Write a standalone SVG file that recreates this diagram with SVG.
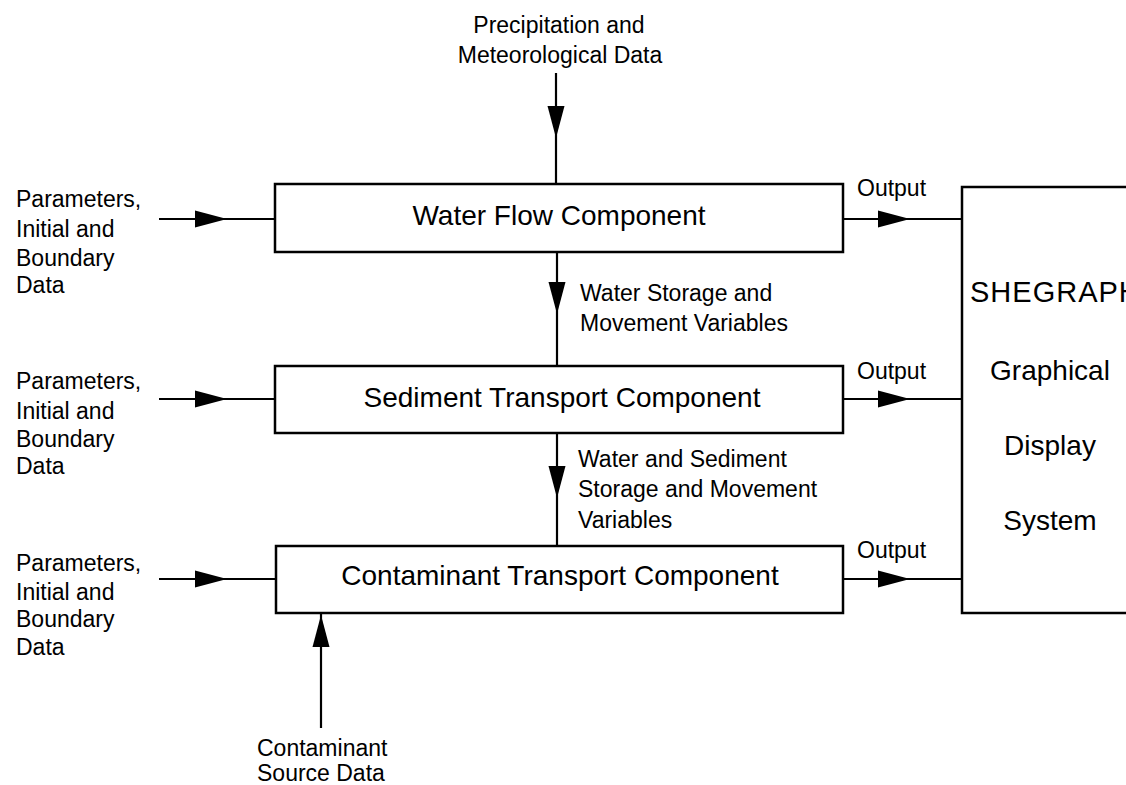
<svg xmlns="http://www.w3.org/2000/svg" xmlns:xlink="http://www.w3.org/1999/xlink" width="1126" height="785" viewBox="0 0 1126 785">
  <style>
    .box { fill: #fff; stroke: #000; stroke-width: 2.5; }
    .line { fill: none; stroke: #000; stroke-width: 2.2; }
    .ah { fill: #000; }
    text { font-family: "Liberation Sans", Arial, Helvetica, sans-serif; fill: #000; }
    .big { font-size: 28px; }
    .small { font-size: 23px; }
    .mid { text-anchor: middle; }
  </style>
  <defs>
    <!-- arrowhead pointing along +x, tip at origin -->
    <path id="ah" class="ah" d="M0,0 L-32,-8.5 L-32,8.5 Z"/>
  </defs>

  <rect width="1126" height="785" fill="#fff"/>

  <!-- connectors -->
  <g id="connectors">
    <!-- precipitation input -->
    <line class="line" x1="556" y1="73" x2="556" y2="184"/>
    <use xlink:href="#ah" transform="translate(556,138) rotate(90)"/>
    <!-- water flow -> sediment -->
    <line class="line" x1="557" y1="252" x2="557" y2="367"/>
    <use xlink:href="#ah" transform="translate(557,314) rotate(90)"/>
    <!-- sediment -> contaminant -->
    <line class="line" x1="557" y1="433" x2="557" y2="546"/>
    <use xlink:href="#ah" transform="translate(557,498) rotate(90)"/>
    <!-- contaminant source input -->
    <line class="line" x1="321" y1="728" x2="321" y2="613"/>
    <use xlink:href="#ah" transform="translate(321,615) rotate(-90)"/>

    <!-- parameter inputs -->
    <line class="line" x1="159" y1="219" x2="275" y2="219"/>
    <use xlink:href="#ah" transform="translate(227,219)"/>
    <line class="line" x1="159" y1="399" x2="275" y2="399"/>
    <use xlink:href="#ah" transform="translate(227,399)"/>
    <line class="line" x1="159" y1="579" x2="275" y2="579"/>
    <use xlink:href="#ah" transform="translate(227,579)"/>

    <!-- outputs -->
    <line class="line" x1="843" y1="219" x2="962" y2="219"/>
    <use xlink:href="#ah" transform="translate(910,219)"/>
    <line class="line" x1="843" y1="399" x2="962" y2="399"/>
    <use xlink:href="#ah" transform="translate(910,399)"/>
    <line class="line" x1="843" y1="579" x2="962" y2="579"/>
    <use xlink:href="#ah" transform="translate(910,579)"/>
  </g>

  <!-- components -->
  <g id="water-flow">
    <rect class="box" x="275" y="184" width="568" height="68"/>
    <text class="big mid" x="559" y="225">Water Flow Component</text>
  </g>
  <g id="sediment-transport">
    <rect class="box" x="275" y="366" width="568" height="67"/>
    <text class="big mid" x="562" y="407">Sediment Transport Component</text>
  </g>
  <g id="contaminant-transport">
    <rect class="box" x="276" y="546" width="567" height="67"/>
    <text class="big mid" x="560" y="585">Contaminant Transport Component</text>
  </g>
  <g id="shegraph">
    <!-- display system box runs off the right edge of the sheet -->
    <rect class="box" x="962" y="187" width="200" height="426"/>
    <text x="970" y="302" font-size="29" letter-spacing="1">SHEGRAPH</text>
    <text class="big mid" x="1050" y="380">Graphical</text>
    <text class="big mid" x="1050" y="455">Display</text>
    <text class="big mid" x="1050" y="530">System</text>
  </g>

  <!-- data labels -->
  <g id="precipitation-data">
    <text class="small mid" x="559" y="33">Precipitation and</text>
    <text class="small mid" x="560" y="63">Meteorological Data</text>
  </g>
  <g id="parameters-1">
    <text class="small" x="16" y="207">Parameters,</text>
    <text class="small" x="16" y="237">Initial and</text>
    <text class="small" x="16" y="266">Boundary</text>
    <text class="small" x="16" y="293">Data</text>
  </g>
  <g id="parameters-2">
    <text class="small" x="16" y="389">Parameters,</text>
    <text class="small" x="16" y="419">Initial and</text>
    <text class="small" x="16" y="447">Boundary</text>
    <text class="small" x="16" y="474">Data</text>
  </g>
  <g id="parameters-3">
    <text class="small" x="16" y="571">Parameters,</text>
    <text class="small" x="16" y="600">Initial and</text>
    <text class="small" x="16" y="627">Boundary</text>
    <text class="small" x="16" y="655">Data</text>
  </g>
  <g id="storage-labels">
    <text class="small" x="580" y="301">Water Storage and</text>
    <text class="small" x="580" y="331">Movement Variables</text>
    <text class="small" x="578" y="467">Water and Sediment</text>
    <text class="small" x="578" y="497">Storage and Movement</text>
    <text class="small" x="578" y="528">Variables</text>
  </g>
  <g id="output-labels">
    <text class="small" x="857" y="196">Output</text>
    <text class="small" x="857" y="379">Output</text>
    <text class="small" x="857" y="558">Output</text>
  </g>
  <g id="source-data">
    <text class="small" x="257" y="756">Contaminant</text>
    <text class="small" x="257" y="781">Source Data</text>
  </g>
</svg>
